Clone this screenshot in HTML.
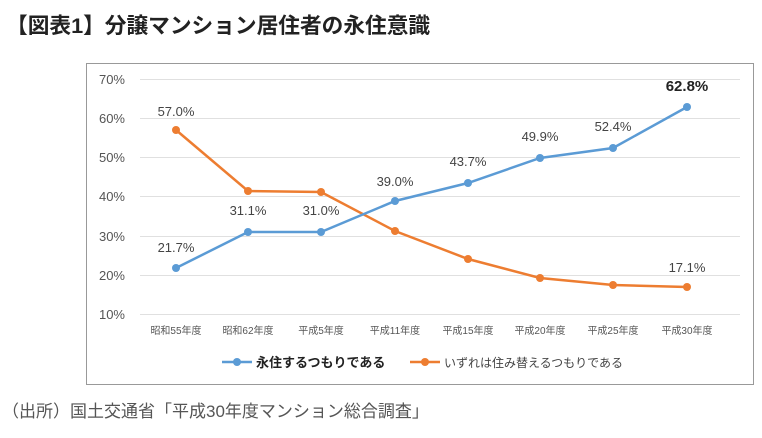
<!DOCTYPE html>
<html><head><meta charset="utf-8"><style>
body{margin:0;width:762px;height:433px;background:#fff;overflow:hidden;font-family:"Liberation Sans","Noto Sans CJK JP",sans-serif}
</style></head><body>
<svg width="762" height="433" xmlns="http://www.w3.org/2000/svg" style="font-family:'Liberation Sans','Noto Sans CJK JP',sans-serif">
<text x="6" y="33" font-size="21.7" font-weight="bold" fill="#222">【図表1】分譲マンション居住者の永住意識</text>
<rect x="86.5" y="63.5" width="667" height="321" fill="#fff" stroke="#999" stroke-width="1"/>
<g stroke="#e0e0e0" stroke-width="1">
<line x1="140" x2="740" y1="79.5" y2="79.5"/><line x1="140" x2="740" y1="118.5" y2="118.5"/>
<line x1="140" x2="740" y1="157.5" y2="157.5"/><line x1="140" x2="740" y1="196.5" y2="196.5"/>
<line x1="140" x2="740" y1="236.5" y2="236.5"/><line x1="140" x2="740" y1="275.5" y2="275.5"/>
<line x1="140" x2="740" y1="314.5" y2="314.5"/></g>
<g font-size="13" fill="#555" text-anchor="end">
<text x="125" y="84">70%</text><text x="125" y="123">60%</text><text x="125" y="162">50%</text>
<text x="125" y="201">40%</text><text x="125" y="241">30%</text><text x="125" y="280">20%</text><text x="125" y="319">10%</text></g>
<g font-size="10" fill="#555" text-anchor="middle">
<text x="176" y="334">昭和55年度</text><text x="248" y="334">昭和62年度</text><text x="321" y="334">平成5年度</text>
<text x="395" y="334">平成11年度</text><text x="468" y="334">平成15年度</text><text x="540" y="334">平成20年度</text>
<text x="613" y="334">平成25年度</text><text x="687" y="334">平成30年度</text></g>
<polyline fill="none" stroke="#ED7D31" stroke-width="2.5" points="176,130 248,191 321,192 395,231 468,259 540,278 613,285 687,287"/>
<g fill="#ED7D31"><circle cx="176" cy="130" r="4"/><circle cx="248" cy="191" r="4"/><circle cx="321" cy="192" r="4"/><circle cx="395" cy="231" r="4"/><circle cx="468" cy="259" r="4"/><circle cx="540" cy="278" r="4"/><circle cx="613" cy="285" r="4"/><circle cx="687" cy="287" r="4"/></g>
<polyline fill="none" stroke="#5B9BD5" stroke-width="2.5" points="176,268 248,232 321,232 395,201 468,183 540,158 613,148 687,107"/>
<g fill="#5B9BD5"><circle cx="176" cy="268" r="4"/><circle cx="248" cy="232" r="4"/><circle cx="321" cy="232" r="4"/><circle cx="395" cy="201" r="4"/><circle cx="468" cy="183" r="4"/><circle cx="540" cy="158" r="4"/><circle cx="613" cy="148" r="4"/><circle cx="687" cy="107" r="4"/></g>
<g font-size="13" fill="#444" text-anchor="middle">
<text x="176" y="252">21.7%</text><text x="248" y="215">31.1%</text><text x="321" y="215">31.0%</text>
<text x="395" y="186">39.0%</text><text x="468" y="166">43.7%</text><text x="540" y="141">49.9%</text>
<text x="613" y="131">52.4%</text><text x="687" y="91" font-size="15" font-weight="bold" fill="#222">62.8%</text>
<text x="176" y="116">57.0%</text><text x="687" y="272">17.1%</text></g>
<line x1="222" x2="252" y1="362" y2="362" stroke="#5B9BD5" stroke-width="2.5"/><circle cx="237" cy="362" r="4" fill="#5B9BD5"/>
<text x="256" y="367" font-size="13" font-weight="bold" fill="#222">永住するつもりである</text>
<line x1="410" x2="440" y1="362" y2="362" stroke="#ED7D31" stroke-width="2.5"/><circle cx="425" cy="362" r="4" fill="#ED7D31"/>
<text x="444" y="367" font-size="12" fill="#444">いずれは住み替えるつもりである</text>
<text x="2" y="417" font-size="17" fill="#555">（出所）国土交通省「平成30年度マンション総合調査」</text>
</svg>
</body></html>
